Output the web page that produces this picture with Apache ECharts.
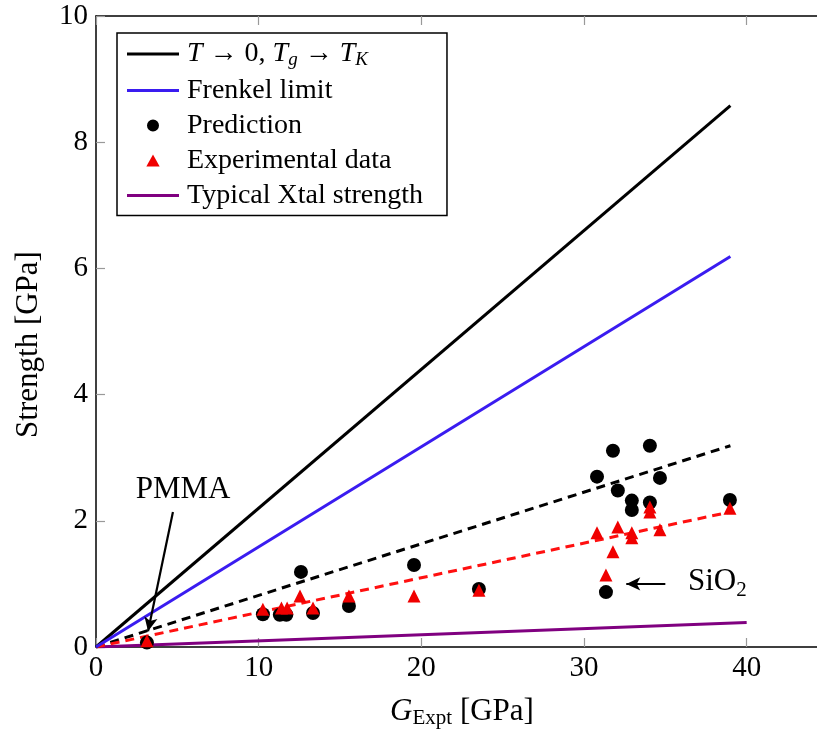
<!DOCTYPE html>
<html><head><meta charset="utf-8">
<script src="https://cdn.jsdelivr.net/npm/echarts@6/dist/echarts.min.js"></script>
<style>html,body{margin:0;padding:0;background:#fff}#c{width:817px;height:731px}</style>
</head><body><div id="c"></div>
<script>
// ---- data ----
const xTicks = [0, 10, 20, 30, 40];
const yTicks = [0, 2, 4, 6, 8, 10];
const idealLine = [[0, 0], [39, 8.58]];        // T -> 0, Tg -> TK
const frenkelLine = [[0, 0], [39, 6.19]];      // Frenkel limit
const xtalLine = [[0, 0], [40, 0.39]];         // Typical Xtal strength
const predFit = [[0, 0], [39, 3.19]];          // dashed fit of predictions
const exptFit = [[0, 0], [39, 2.14]];          // dashed fit of experiments
const predG = [3.13, 10.26, 11.3, 11.7, 12.6, 13.34, 15.55, 19.55, 23.54, 30.8, 31.35, 31.78, 32.08, 32.94, 32.94, 34.05, 34.05, 34.67, 38.97];
const predS = [0.07, 0.52, 0.51, 0.51, 1.19, 0.54, 0.65, 1.30, 0.92, 2.70, 0.87, 3.11, 2.48, 2.32, 2.17, 3.19, 2.29, 2.68, 2.33];
const exptG = [3.13, 10.26, 11.4, 11.75, 12.54, 13.34, 15.55, 19.55, 23.54, 30.8, 31.35, 31.78, 32.08, 32.94, 32.94, 34.05, 34.05, 34.67, 38.97];
const exptS = [0.10, 0.60, 0.62, 0.62, 0.81, 0.62, 0.81, 0.81, 0.90, 1.81, 1.14, 1.51, 1.90, 1.81, 1.73, 2.22, 2.14, 1.86, 2.20];

const FONT = 'Liberation Serif';
const chart = echarts.init(document.getElementById('c'));
const zip = (a, b) => a.map((v, i) => [v, b[i]]);
const LINE_ICON = 'path://M0,0H52V3H0Z';
const CIRCLE_ICON = 'path://M6,0A6,6,0,1,1,5.99,0Z';
const TRI_ICON = 'path://M5,0L10,9L0,9Z';

chart.setOption({
  animation: false,
  backgroundColor: '#fff',
  grid: { left: 96, top: 16, width: 732, height: 631, outerBoundsMode: 'none', containLabel: false },
  xAxis: [{
    type: 'value', min: 0, max: 45, interval: 10,
    axisLine: { show: true, lineStyle: { color: '#000', width: 1.5 } },
    axisTick: { show: true, inside: true, length: 9, lineStyle: { color: '#999', width: 1.2 } },
    axisLabel: { fontFamily: FONT, fontSize: 29, color: '#000', margin: 7,
      formatter: v => xTicks.includes(v) ? String(v) : '' },
    splitLine: { show: false },
    name: '{i|G}{s|Expt}{n| [GPa]}', nameLocation: 'middle', nameGap: 47,
    nameTextStyle: { fontFamily: FONT, fontSize: 30, color: '#000',
      rich: { i: { fontFamily: FONT, fontSize: 31, fontStyle: 'italic' },
              s: { fontFamily: FONT, fontSize: 21, padding: [14, 0, 0, 0] },
              n: { fontFamily: FONT, fontSize: 31 } } }
  }, {
    type: 'value', position: 'top', min: 0, max: 45, interval: 10,
    axisLine: { show: true, lineStyle: { color: '#000', width: 1.5 } },
    axisTick: { show: true, inside: true, length: 9, lineStyle: { color: '#999', width: 1.2 } },
    axisLabel: { show: false }, splitLine: { show: false }
  }],
  yAxis: {
    type: 'value', min: 0, max: 10, interval: 2,
    axisLine: { show: true, lineStyle: { color: '#000', width: 1.5 } },
    axisTick: { show: true, inside: true, length: 9, lineStyle: { color: '#999', width: 1.2 } },
    axisLabel: { fontFamily: FONT, fontSize: 29, color: '#000', margin: 8,
      formatter: v => yTicks.includes(v) ? String(v) : '' },
    splitLine: { show: false },
    name: 'Strength [GPa]', nameLocation: 'middle', nameGap: 52, nameRotate: 90,
    nameTextStyle: { fontFamily: FONT, fontSize: 31, color: '#000', padding: [0, 26, 0, 0] }
  },
  legend: {
    orient: 'vertical', left: 117, top: 33,
    data: [
      { name: 'T0', icon: LINE_ICON },
      { name: 'Frenkel limit', icon: LINE_ICON },
      { name: 'Prediction', icon: CIRCLE_ICON },
      { name: 'Experimental data', icon: TRI_ICON },
      { name: 'Typical Xtal strength', icon: LINE_ICON }
    ],
    padding: [7, 24, 6, 10], itemGap: 7,
    itemWidth: 52, itemHeight: 12,
    backgroundColor: '#fff', borderColor: '#000', borderWidth: 1.5,
    selectedMode: false,
    formatter: n => n === 'T0' ? '{i|T}{n| → 0, }{i|T}{s|g}{n| → }{i|T}{si|K}' : n,
    textStyle: { fontFamily: FONT, fontSize: 28, color: '#000', lineHeight: 28, padding: [0, 0, 0, 3],
      rich: { i: { fontFamily: FONT, fontSize: 28, fontStyle: 'italic' },
              n: { fontFamily: FONT, fontSize: 28 },
              s: { fontFamily: FONT, fontSize: 19, fontStyle: 'italic', padding: [12, 0, 0, 0] },
              si: { fontFamily: FONT, fontSize: 19, fontStyle: 'italic', padding: [12, 0, 0, 0] } } }
  },
  series: [
    { name: 'Typical Xtal strength', type: 'line', data: xtalLine, symbol: 'none',
      lineStyle: { color: '#800080', width: 3 }, itemStyle: { color: '#800080' }, z: 2 },
    { name: 'predFit', type: 'line', data: predFit, symbol: 'none',
      lineStyle: { color: '#000', width: 3, type: [9, 6] }, z: 2 },
    { name: 'exptFit', type: 'line', data: exptFit, symbol: 'none',
      lineStyle: { color: '#ff1010', width: 3, type: [9, 6] }, z: 2 },
    { name: 'T0', type: 'line', data: idealLine, symbol: 'none',
      lineStyle: { color: '#000', width: 3 }, itemStyle: { color: '#000' }, z: 2 },
    { name: 'Frenkel limit', type: 'line', data: frenkelLine, symbol: 'none',
      lineStyle: { color: '#3a1cf0', width: 3 }, itemStyle: { color: '#3a1cf0' }, z: 2 },
    { name: 'Prediction', type: 'scatter', data: zip(predG, predS), symbol: 'circle', symbolSize: 14,
      itemStyle: { color: '#000', opacity: 1 }, z: 3 },
    { name: 'Experimental data', type: 'scatter', data: zip(exptG, exptS), symbol: 'triangle', symbolSize: 13,
      itemStyle: { color: '#f00000', opacity: 1 }, z: 4 },
    { name: 'annot', type: 'line', data: [], symbol: 'none', z: 5,
      markLine: { silent: true, symbol: ['none', 'arrow'], symbolSize: [10, 14], animation: false,
        lineStyle: { color: '#000', width: 2.2, type: 'solid' }, label: { show: false },
        data: [
          [{ coord: [4.73, 2.14] }, { coord: [3.2, 0.25] }],
          [{ coord: [35.0, 1.0] }, { coord: [32.6, 1.0] }]
        ] },
      markPoint: { silent: true, symbol: 'circle', symbolSize: 0,
        label: { show: true, position: 'inside', color: '#000', fontFamily: FONT, fontSize: 31,
          rich: { n: { fontFamily: FONT, fontSize: 31 }, s: { fontFamily: FONT, fontSize: 21, padding: [16, 0, 0, 0] } } },
        data: [
          { coord: [5.35, 2.49], label: { formatter: 'PMMA' } },
          { coord: [38.2, 1.03], label: { formatter: '{n|SiO}{s|2}' } }
        ] } }
  ]
});
</script></body></html>
